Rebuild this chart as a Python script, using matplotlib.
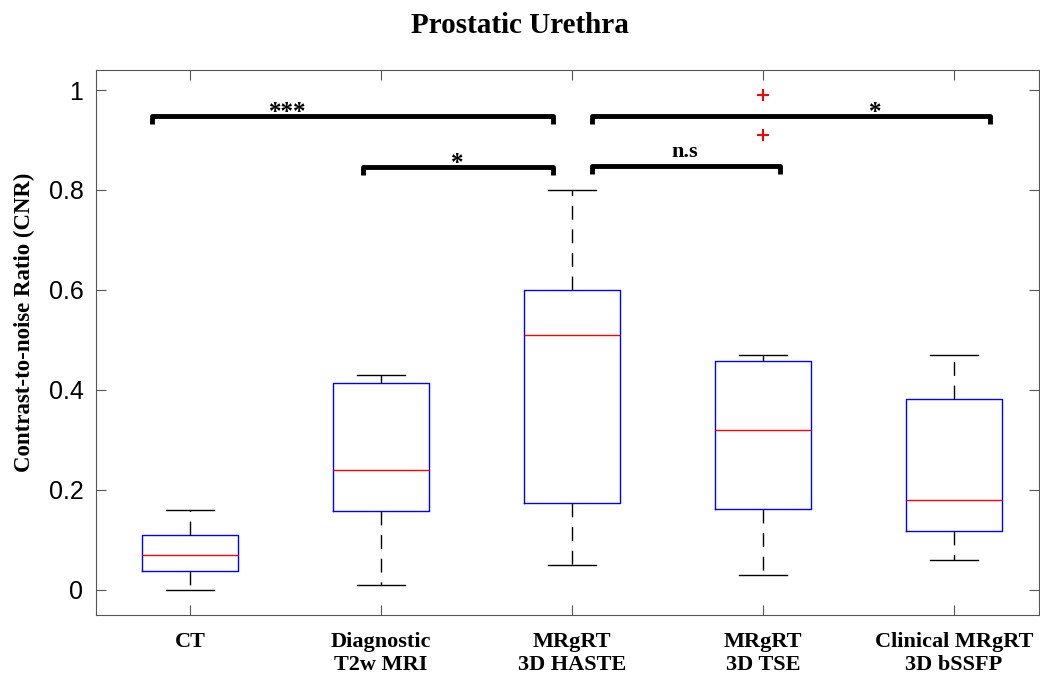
import matplotlib
matplotlib.use("Agg")
from matplotlib import pyplot as plt

# values (CNR)
labels = ["CT", "Diagnostic\nT2w MRI", "MRgRT\n3D HASTE", "MRgRT\n3D TSE", "Clinical MRgRT\n3D bSSFP"]
whislo = [0.00, 0.01, 0.05, 0.03, 0.06]
q1 = [0.037, 0.157, 0.173, 0.162, 0.117]
med = [0.07, 0.24, 0.51, 0.32, 0.18]
q3 = [0.109, 0.414, 0.60, 0.458, 0.382]
whishi = [0.16, 0.43, 0.80, 0.47, 0.47]
fliers = [[], [], [], [0.91, 0.99], []]

# significance brackets: (x start, x end, height, label, label x)
br_x0 = [0.80, 1.906, 3.105, 3.105]
br_x1 = [2.90, 2.90, 5.19, 4.09]
br_y = [0.948, 0.846, 0.948, 0.848]
br_txt = ["***", "*", "*", "n.s"]
br_tx = [1.51, 2.40, 4.59, 3.59]

serif = "Liberation Serif"
sans = "Liberation Sans"

fig = plt.figure(figsize=(10.4, 6.77), dpi=100)
ax = fig.add_axes([0.0923, 0.0916, 0.9067, 0.805])

stats = []
for i in range(len(labels)):
    stats.append(dict(whislo=whislo[i], q1=q1[i], med=med[i], q3=q3[i],
                      whishi=whishi[i], fliers=fliers[i]))

ax.bxp(stats, positions=range(1, 6), widths=0.5, capwidths=0.25,
       boxprops=dict(color="blue", linewidth=1),
       medianprops=dict(color="red", linewidth=1),
       whiskerprops=dict(color="black", linewidth=1, linestyle=(0, (10, 7))),
       capprops=dict(color="black", linewidth=1),
       flierprops=dict(marker="+", markeredgecolor="red", markersize=8,
                       markeredgewidth=1.5, linestyle="none"))

for x0, x1, y, t, tx in zip(br_x0, br_x1, br_y, br_txt, br_tx):
    ax.plot([x0, x0, x1, x1], [y - 0.016, y, y, y - 0.016], color="black",
            linewidth=3.5, solid_joinstyle="round", solid_capstyle="butt")
    if t == "n.s":
        ax.text(tx, y + 0.018, t, ha="center", va="baseline", fontsize=16,
                fontweight="bold", family=serif)
    else:
        ax.text(tx, y - 0.006, t, ha="center", va="baseline", fontsize=18,
                fontweight="bold", family=serif)

ax.set_xlim(0.508, 5.445)
ax.set_ylim(-0.05, 1.04)
ax.set_yticks([0, 0.2, 0.4, 0.6, 0.8, 1])
ax.set_yticklabels(["0", "0.2", "0.4", "0.6", "0.8", "1"], family=sans, fontsize=18)
ax.set_xticks(range(1, 6))
ax.set_xticklabels(labels, family=serif, fontweight="bold", fontsize=16)
ax.tick_params(direction="in", top=True, right=True, color="#555555", length=7)
ax.tick_params(axis="x", pad=12)
ax.tick_params(axis="y", pad=9)
for s in ax.spines.values():
    s.set_color("#555555")

fig.text(24 / 1040, 1 - 322 / 677, "Contrast-to-noise Ratio (CNR)", rotation=90,
         ha="center", va="center", family=serif, fontweight="bold", fontsize=16.5)
fig.text(0.5, 0.962, "Prostatic Urethra", ha="center", va="center",
         family=serif, fontweight="bold", fontsize=21)

fig.savefig("out.png", dpi=100)
